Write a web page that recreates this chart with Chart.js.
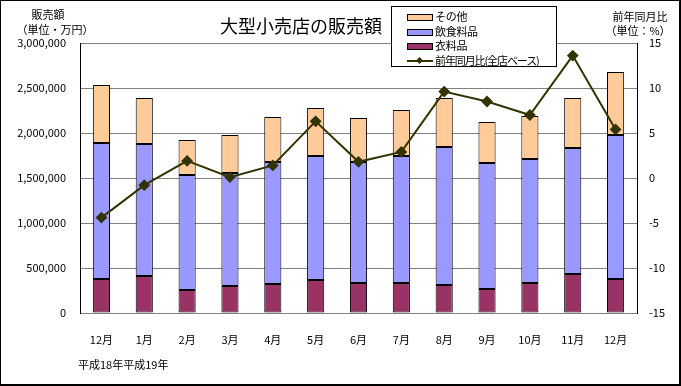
<!DOCTYPE html>
<html>
<head>
<meta charset="utf-8">
<script src="https://cdn.jsdelivr.net/npm/chart.js@4/dist/chart.umd.min.js"></script>
<style>
  body { margin: 0; background: #fff; }
  #wrap { position: relative; width: 681px; height: 386px; font-family: "Noto Sans CJK JP", "Noto Sans", sans-serif; color: #000; }
  #c { position: absolute; left: 0; top: 0; }
  .frame { position: absolute; left: 0; top: 0; width: 681px; height: 386px; box-sizing: border-box; border: 1px solid #000; border-right-width: 2px; border-bottom-width: 2px; pointer-events: none; }
  .lbl { position: absolute; font-size: 11px; line-height: 1; white-space: nowrap; transform: translate(-50%, -50%); }
  .title { position: absolute; left: 301px; top: 25px; font-size: 18px; line-height: 1; white-space: nowrap; transform: translate(-50%, -50%); }
  .legend { position: absolute; left: 391px; top: 6px; width: 166px; height: 61px; box-sizing: border-box; border: 1px solid #000; background: #fff; }
  .item { position: absolute; left: 15px; height: 14px; font-size: 11px; line-height: 14px; white-space: nowrap; letter-spacing: -0.3px; }
  .sw { display: inline-block; width: 24px; height: 5px; border: 1px solid #000; vertical-align: middle; margin-right: 2px; position: relative; top: -1px; }
  .ln { display: inline-block; width: 26px; height: 8px; vertical-align: middle; margin-right: 2px; position: relative; top: -1px; }
  .ln::before { content: ""; position: absolute; left: 0; right: 0; top: 3px; height: 2px; background: #333300; }
  .ln::after { content: ""; position: absolute; left: 10px; top: 1px; width: 5px; height: 5px; background: #333300; transform: rotate(45deg); }
</style>
</head>
<body>
<div id="wrap">
  <canvas id="c" width="681" height="386"></canvas>
  <div class="title">大型小売店の販売額</div>
  <div class="lbl" style="left:48px;top:14px;">販売額</div>
  <div class="lbl" style="left:55px;top:29px;">（単位・万円）</div>
  <div class="lbl" style="left:640px;top:16px;">前年同月比</div>
  <div class="lbl" style="left:638px;top:30px;">（単位：%）</div>
  <div class="lbl" style="left:78px;top:364px;transform:translate(0,-50%);">平成18年平成19年</div>
  <div class="legend">
    <div class="item" style="top:2px;"><span class="sw" style="background:#FFCC99"></span>その他</div>
    <div class="item" style="top:17px;"><span class="sw" style="background:#9999FF"></span>飲食料品</div>
    <div class="item" style="top:31px;"><span class="sw" style="background:#993366"></span>衣料品</div>
    <div class="item" style="top:46px;letter-spacing:-1.1px;"><span class="ln"></span>前年同月比(全店ベース)</div>
  </div>
  <div class="frame"></div>
</div>
<script>
const categories = ["12月", "1月", "2月", "3月", "4月", "5月", "6月", "7月", "8月", "9月", "10月", "11月", "12月"];
// 販売額（万円）
const clothing = [378000, 411000, 256000, 300000, 322000, 367000, 333000, 333000, 311000, 267000, 333000, 433000, 378000];
const food     = [1511000, 1467000, 1277000, 1256000, 1356000, 1377000, 1345000, 1411000, 1533000, 1400000, 1378000, 1400000, 1600000];
const other    = [644000, 511000, 389000, 422000, 500000, 534000, 489000, 512000, 545000, 455000, 478000, 556000, 700000];
// 前年同月比（%）
const yoy      = [-4.4, -0.8, 1.9, 0.1, 1.4, 6.3, 1.8, 2.9, 9.6, 8.5, 7.0, 13.6, 5.4];
const leftTicks = { min: 0, max: 3000000, step: 500000 };
const rightTicks = { min: -15, max: 15, step: 5 };

const tickFont = { family: '"Noto Sans CJK JP", "Noto Sans", sans-serif', size: 11 };

new Chart(document.getElementById('c'), {
  data: {
    labels: categories,
    datasets: [
      { type: 'line', label: '前年同月比(全店ベース)', data: yoy, yAxisID: 'y2', order: 0,
        borderColor: '#333300', backgroundColor: '#333300', borderWidth: 2,
        pointStyle: 'rectRot', pointRadius: 4.5, pointHoverRadius: 4.5, tension: 0 },
      { type: 'bar', label: '衣料品', data: clothing, yAxisID: 'y', stack: 's', order: 1,
        backgroundColor: '#993366', borderColor: '#000', borderWidth: 1, borderSkipped: false },
      { type: 'bar', label: '飲食料品', data: food, yAxisID: 'y', stack: 's', order: 1,
        backgroundColor: '#9999FF', borderColor: '#000', borderWidth: 1, borderSkipped: false },
      { type: 'bar', label: 'その他', data: other, yAxisID: 'y', stack: 's', order: 1,
        backgroundColor: '#FFCC99', borderColor: '#000', borderWidth: 1, borderSkipped: false }
    ]
  },
  options: {
    responsive: false,
    animation: false,
    datasets: { bar: { barPercentage: 0.4, categoryPercentage: 1.0 } },
    layout: { padding: { top: 43, left: 0, right: 0, bottom: 0 } },
    plugins: { legend: { display: false }, title: { display: false }, tooltip: { enabled: false } },
    scales: {
      x: {
        stacked: true,
        grid: { display: false },
        border: { display: true, color: '#808080', width: 1 },
        ticks: { color: '#000', font: tickFont, padding: 12, maxRotation: 0, autoSkip: false },
        afterFit: s => { s.height = 73; }
      },
      y: {
        position: 'left', stacked: true,
        min: leftTicks.min, max: leftTicks.max,
        grid: { color: '#808080', drawTicks: false, lineWidth: 1 },
        border: { display: true, color: '#000', width: 1 },
        ticks: { stepSize: leftTicks.step, color: '#000', font: tickFont, padding: 14,
          callback: v => Number(v).toLocaleString('en-US') },
        afterFit: s => { s.width = 80; }
      },
      y2: {
        position: 'right',
        min: rightTicks.min, max: rightTicks.max,
        grid: { drawOnChartArea: false, drawTicks: false },
        border: { display: true, color: '#000', width: 1 },
        ticks: { stepSize: rightTicks.step, color: '#000', font: tickFont, padding: 12 },
        afterFit: s => { s.width = 44; }
      }
    }
  }
});
</script>
</body>
</html>
